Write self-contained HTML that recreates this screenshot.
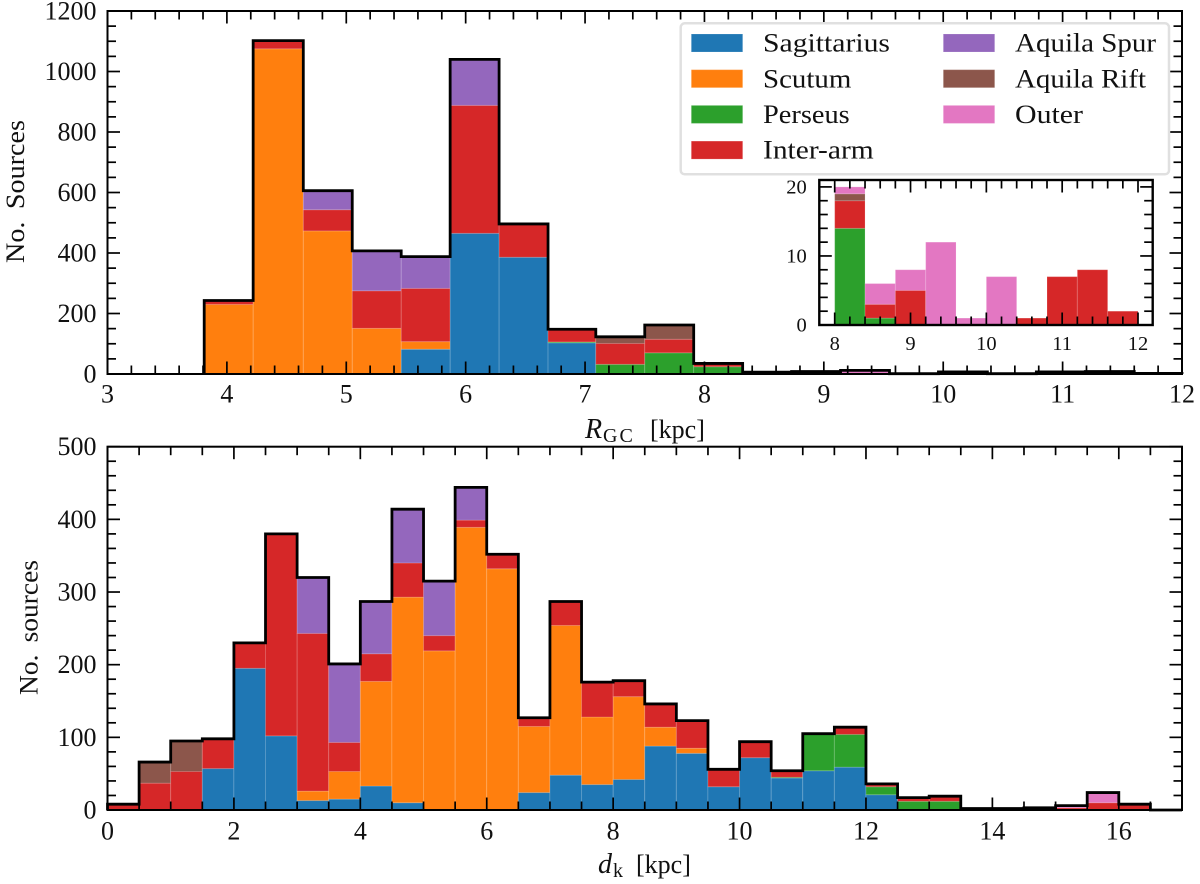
<!DOCTYPE html>
<html lang="en">
<head>
<meta charset="utf-8">
<title>Source histograms by spiral arm</title>
<style>
html,body{margin:0;padding:0;background:#fff;}
svg{display:block;}
text{font-family:"Liberation Serif",serif;fill:#111;}
</style>
</head>
<body>
<svg id="figure" xmlns="http://www.w3.org/2000/svg" width="1200" height="884" viewBox="0 0 1200 884"></svg>
<script>
// ---- Legend / series names and colours ----
const seriesNames = ['Sagittarius','Scutum','Perseus','Inter-arm','Aquila Spur','Aquila Rift','Outer'];
const seriesColors = ['#1f77b4','#ff7f0e','#2ca02c','#d62728','#9467bd','#8c564b','#e377c2'];

// ---- Top panel: R_GC histogram ----
const rgcEdges = [3.81,4.22,4.64,5.05,5.46,5.87,6.28,6.69,7.09,7.5,7.91,8.32,8.73,9.14,9.55,9.96,10.37,10.78,11.19,11.6,12.01];
const rgcSagittarius = [0,0,0,0,82,465,386,103,0,0,0,0,0,0,0,0,0,0,0,0];
const rgcScutum      = [230,1075,473,151,25,0,0,0,0,0,0,0,0,0,0,0,0,0,0,0];
const rgcPerseus     = [0,0,0,0,0,0,0,3,32,70,24,1,0,0,0,0,0,0,0,0];
const rgcInterArm    = [13,27,70,124,176,423,110,42,69,45,9,2,5,0,0,0,1,7,8,2];
const rgcAquilaSpur  = [0,0,63,132,105,152,0,0,0,0,0,0,0,0,0,0,0,0,0,0];
const rgcAquilaRift  = [0,0,0,0,0,0,0,0,22,47,1,0,0,0,0,0,0,0,0,0];
const rgcOuter       = [0,0,0,0,0,0,0,0,0,0,1,3,3,12,1,7,0,0,0,0];
const rgcXTicks = [3,4,5,6,7,8,9,10,11,12];
const rgcYTicks = [0,200,400,600,800,1000,1200];

// ---- Inset: R_GC 8-12 kpc ----
const insetEdges = [8,8.4,8.8,9.2,9.6,10,10.4,10.8,11.2,11.6,12];
const insetPerseus    = [14,1,0,0,0,0,0,0,0,0];
const insetInterArm   = [4,2,5,0,0,0,1,7,8,2];
const insetAquilaRift = [1,0,0,0,0,0,0,0,0,0];
const insetOuter      = [1,3,3,12,1,7,0,0,0,0];
const insetXTicks = [8,9,10,11,12];
const insetYTicks = [0,10,20];

// ---- Bottom panel: d_k histogram ----
const dkEdges = [0,0.5,1,1.5,2,2.5,3,3.5,4,4.5,5,5.5,6,6.5,7,7.5,8,8.5,9,9.5,10,10.5,11,11.5,12,12.5,13,13.5,14,14.5,15,15.5,16,16.5,17];
const dkSagittarius = [0,0,0,57,195,102,13,15,33,10,0,0,0,24,48,35,42,88,78,32,72,44,54,59,21,0,0,0,0,0,0,0,0,0];
const dkScutum      = [0,0,0,0,0,0,13,38,144,283,219,389,332,91,206,93,114,26,7,0,0,0,0,0,0,0,0,0,0,0,0,0,0,0];
const dkPerseus     = [0,0,0,0,0,0,0,0,0,0,0,0,0,0,0,0,0,0,0,0,0,1,51,45,11,12,12,0,0,0,0,0,0,0];
const dkInterArm    = [8,37,53,41,35,278,217,40,38,47,21,10,20,12,33,48,22,32,38,24,22,9,0,10,4,5,7,2,2,3,3,10,8,0];
const dkAquilaSpur  = [0,0,0,0,0,0,77,108,72,74,75,45,0,0,0,0,0,0,0,0,0,0,0,0,0,0,0,0,0,0,0,0,0,0];
const dkAquilaRift  = [0,29,42,0,0,0,0,0,0,0,0,0,0,0,0,0,0,0,0,0,0,0,0,0,0,0,0,0,0,0,0,0,0,0];
const dkOuter       = [0,0,0,0,0,0,0,0,0,0,0,0,0,0,0,0,0,0,0,0,0,0,0,0,0,0,0,0,0,0,3,14,0,0];
const dkXTicks = [0,2,4,6,8,10,12,14,16];
const dkYTicks = [0,100,200,300,400,500];

const SVG_NS = 'http://www.w3.org/2000/svg';
const figure = document.getElementById('figure');

function make(parent, tag, attrs, text) {
  const el = document.createElementNS(SVG_NS, tag);
  for (const k in attrs) el.setAttribute(k, attrs[k]);
  if (text !== undefined) el.textContent = text;
  parent.appendChild(el);
  return el;
}

function makeScale(d0, d1, p0, p1) {
  return function (v) { return p0 + (v - d0) * (p1 - p0) / (d1 - d0); };
}

function rangeTicks(lo, hi, step) {
  const out = [];
  const n = Math.round((hi - lo) / step);
  for (let i = 0; i <= n; i++) out.push(lo + i * step);
  return out;
}

function drawBars(parent, prefix, edges, stack, x, y) {
  for (let b = 0; b < edges.length - 1; b++) {
    let base = 0;
    stack.forEach(function (s) {
      const v = s.values[b];
      if (!v) return;
      const x0 = x(edges[b]);
      const x1 = Math.min(x(edges[b + 1]), x.maxPx);
      const rect = make(parent, 'rect', {
        x: x0, y: y(base + v), width: x1 - x0, height: y(base) - y(base + v),
        fill: seriesColors[s.index], stroke: '#fff', 'stroke-opacity': 0.16, 'stroke-width': 1
      });
      
      
      base += v;
    });
  }
}

function drawOutline(parent, name, edges, stack, x, y) {
  let d = 'M' + x(edges[0]) + ' ' + y(0);
  for (let b = 0; b < edges.length - 1; b++) {
    let total = 0;
    stack.forEach(function (s) { total += s.values[b]; });
    const xEnd = Math.min(x(edges[b + 1]), x.maxPx);
    d += ' L' + x(edges[b]) + ' ' + y(total) + ' L' + xEnd + ' ' + y(total);
  }
  d += ' L' + Math.min(x(edges[edges.length - 1]), x.maxPx) + ' ' + y(0);
  const path = make(parent, 'path', { d: d, fill: 'none', stroke: '#000', 'stroke-width': 2.8, 'stroke-linejoin': 'miter' });
  
  
}

function drawAxes(parent, prefix, box, x, y, xMajor, xMinorAll, yMajor, yMinorAll, opt) {
  const ticks = make(parent, 'g', { stroke: '#000', 'stroke-width': 1.7 });
  
  
  const majL = 12.5, minL = 8.5;
  xMinorAll.forEach(function (v) {
    const isMajor = xMajor.indexOf(v) >= 0;
    const L = isMajor ? majL : minL;
    const px = x(v);
    make(ticks, 'line', { x1: px, x2: px, y1: box.bottom, y2: box.bottom - L });
    make(ticks, 'line', { x1: px, x2: px, y1: box.top, y2: box.top + L });
  });
  yMinorAll.forEach(function (v) {
    const isMajor = yMajor.indexOf(v) >= 0;
    const L = isMajor ? majL : minL;
    const py = y(v);
    make(ticks, 'line', { x1: box.left, x2: box.left + L, y1: py, y2: py });
    make(ticks, 'line', { x1: box.right, x2: box.right - L, y1: py, y2: py });
  });
  const frame = make(parent, 'rect', {
    x: box.left, y: box.top, width: box.right - box.left, height: box.bottom - box.top,
    fill: 'none', stroke: '#000', 'stroke-width': opt.spine
  });
  
  
  xMajor.forEach(function (v) {
    const t = make(parent, 'text', { x: x(v), y: box.bottom + opt.xLabelOffset, 'text-anchor': 'middle', 'font-size': opt.font }, String(v));
    
    
  });
  yMajor.forEach(function (v) {
    const t = make(parent, 'text', { x: box.left - opt.yLabelGap, y: y(v) + opt.yLabelShift, 'text-anchor': 'end', 'font-size': opt.font }, String(v));
    
    
  });
}

function stackFrom(list) {
  return list.map(function (e) {
    return { index: e[0], slug: seriesNames[e[0]].toLowerCase().replace(/[^a-z]+/g, '-'), values: e[1] };
  });
}

/* ---------- Top panel ---------- */
const topGroup = make(figure, 'g', {});


const topBox = { left: 107.5, right: 1182, top: 11, bottom: 374 };
const xTop = makeScale(3, 12, topBox.left, topBox.right);
xTop.maxPx = topBox.right;
const yTop = makeScale(0, 1200, topBox.bottom, topBox.top);
const topStack = stackFrom([[0, rgcSagittarius],[1, rgcScutum],[2, rgcPerseus],[3, rgcInterArm],[4, rgcAquilaSpur],[5, rgcAquilaRift],[6, rgcOuter]]);
drawBars(topGroup, 'rgc', rgcEdges, topStack, xTop, yTop);
drawOutline(topGroup, 'rgc-total-outline', rgcEdges, topStack, xTop, yTop);
drawAxes(topGroup, 'rgc', topBox, xTop, yTop, rgcXTicks, rangeTicks(3, 12, 0.2).map(function (v) { return +v.toFixed(1); }), rgcYTicks, rangeTicks(0, 1200, 50),
  { spine: 2, font: 26, xLabelOffset: 28.5, yLabelGap: 11, yLabelShift: 8.5 });

/* ---------- Bottom panel ---------- */
const botGroup = make(figure, 'g', {});


const botBox = { left: 107.5, right: 1182, top: 446.7, bottom: 810 };
const xBot = makeScale(0, 17, botBox.left, botBox.right);
xBot.maxPx = botBox.right;
const yBot = makeScale(0, 500, botBox.bottom, botBox.top);
const botStack = stackFrom([[0, dkSagittarius],[1, dkScutum],[2, dkPerseus],[3, dkInterArm],[4, dkAquilaSpur],[5, dkAquilaRift],[6, dkOuter]]);
drawBars(botGroup, 'dk', dkEdges, botStack, xBot, yBot);
drawOutline(botGroup, 'dk-total-outline', dkEdges, botStack, xBot, yBot);
drawAxes(botGroup, 'dk', botBox, xBot, yBot, dkXTicks, rangeTicks(0, 17, 0.5), dkYTicks, rangeTicks(0, 500, 20),
  { spine: 2, font: 26, xLabelOffset: 29.3, yLabelGap: 11, yLabelShift: 8.5 });

/* ---------- Legend ---------- */
const legend = make(figure, 'g', {});


const legendFrame = make(legend, 'rect', { x: 680.7, y: 23.3, width: 488.3, height: 151, rx: 4, ry: 4, fill: '#fff', stroke: '#e0e0e0', 'stroke-width': 2.5 });


const legendTextWidths = [127, 88.3, 86.7, 110.7, 141, 131, 68];
const legendRows = 4;
seriesNames.forEach(function (name, i) {
  const col = i < legendRows ? 0 : 1;
  const row = i < legendRows ? i : i - legendRows;
  const hx = col === 0 ? 691.3 : 943.3;
  const tx = col === 0 ? 763 : 1015;
  const hy = 34 + row * 35.7;
  const swatch = make(legend, 'rect', { x: hx, y: hy, width: 51.4, height: 18, fill: seriesColors[i], stroke: '#fff', 'stroke-opacity': 0.16, 'stroke-width': 1 });
  
  
  const label = make(legend, 'text', { x: tx, y: hy + 17.6, 'font-size': 26, textLength: legendTextWidths[i], lengthAdjust: 'spacingAndGlyphs' }, name);
  
  
});

/* ---------- Inset ---------- */
const insetGroup = make(figure, 'g', {});


const insetBox = { left: 819.3, right: 1152.7, top: 180, bottom: 325 };
const xIn = makeScale(8, 12, 834.7, 1138);
xIn.maxPx = insetBox.right;
const yIn = makeScale(0, 21, insetBox.bottom, insetBox.top);
const insetBg = make(insetGroup, 'rect', { x: insetBox.left, y: insetBox.top, width: insetBox.right - insetBox.left, height: insetBox.bottom - insetBox.top, fill: '#fff' });


const insetStack = stackFrom([[2, insetPerseus],[3, insetInterArm],[5, insetAquilaRift],[6, insetOuter]]);
drawBars(insetGroup, 'inset', insetEdges, insetStack, xIn, yIn);
drawAxes(insetGroup, 'inset', insetBox, xIn, yIn, insetXTicks, rangeTicks(8, 12, 0.2).map(function (v) { return +v.toFixed(1); }), insetYTicks, rangeTicks(0, 20, 2),
  { spine: 2.4, font: 20.5, xLabelOffset: 25, yLabelGap: 12.5, yLabelShift: 6.5 });

/* ---------- Axis titles ---------- */
const topYTitle = make(figure, 'text', { transform: 'translate(24,263) rotate(-90)', 'font-size': 26, 'word-spacing': 5, textLength: 143, lengthAdjust: 'spacingAndGlyphs' }, 'No. Sources');


const botYTitle = make(figure, 'text', { transform: 'translate(37.7,695) rotate(-90)', 'font-size': 26, 'word-spacing': 5, textLength: 135, lengthAdjust: 'spacingAndGlyphs' }, 'No. sources');



const topXTitle = make(figure, 'text', { y: 438, 'font-size': 28 });


make(topXTitle, 'tspan', { x: 585, 'font-style': 'italic' }, 'R');
make(topXTitle, 'tspan', { x: 603, dy: 4, 'font-size': 20, 'letter-spacing': 2 }, 'GC');
make(topXTitle, 'tspan', { x: 650, dy: -4, 'font-size': 26 }, '[kpc]');

const botXTitle = make(figure, 'text', { y: 873, 'font-size': 28 });


make(botXTitle, 'tspan', { x: 598, 'font-style': 'italic' }, 'd');
make(botXTitle, 'tspan', { x: 613, dy: 4, 'font-size': 20 }, 'k');
make(botXTitle, 'tspan', { x: 636, dy: -4, 'font-size': 26 }, '[kpc]');
</script>
</body>
</html>
